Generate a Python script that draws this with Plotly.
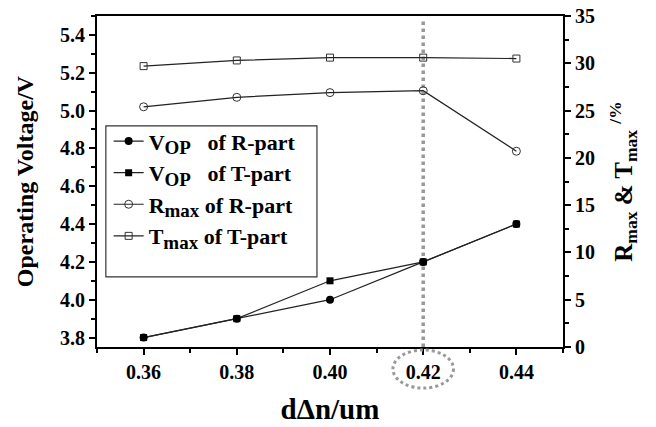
import plotly.graph_objects as go

x_vals = [0.36, 0.38, 0.40, 0.42, 0.44]
vop_r = [3.8, 3.9, 4.0, 4.2, 4.4]
vop_t = [3.8, 3.9, 4.1, 4.2, 4.4]
rmax_r = [25.4, 26.4, 26.9, 27.1, 20.7]
tmax_t = [29.7, 30.3, 30.6, 30.6, 30.5]

x_ticks = [0.36, 0.38, 0.40, 0.42, 0.44]
x_ticklabels = ["0.36", "0.38", "0.40", "0.42", "0.44"]
highlight_x = 0.42

SUB = '<sub><span style="font-size:19px">{}</span></sub>'
names = [
    "V" + SUB.format("OP") + "&nbsp;&nbsp;&nbsp;of R-part",
    "V" + SUB.format("OP") + "&nbsp;&nbsp;&nbsp;of T-part",
    "R" + SUB.format("max") + " of R-part",
    "T" + SUB.format("max") + " of T-part",
]

FONT = "Liberation Serif"

fig = go.Figure()
line = dict(color="#222", width=1.2)
fig.add_trace(go.Scatter(x=x_vals, y=vop_t, name=names[1], mode="lines+markers",
                         line=line, marker=dict(symbol="square", size=7, color="black"),
                         legendrank=2))
fig.add_trace(go.Scatter(x=x_vals, y=vop_r, name=names[0], mode="lines+markers",
                         line=line, marker=dict(symbol="circle", size=8, color="black"),
                         legendrank=1))
fig.add_trace(go.Scatter(x=x_vals, y=rmax_r, name=names[2], mode="lines+markers", yaxis="y2",
                         line=line, marker=dict(symbol="circle-open", size=8, color="#333",
                                                line=dict(width=1)), legendrank=3))
fig.add_trace(go.Scatter(x=x_vals, y=tmax_t, name=names[3], mode="lines+markers", yaxis="y2",
                         line=line, marker=dict(symbol="square-open", size=7, color="#333",
                                                line=dict(width=1)), legendrank=4))

tickfont = dict(family=FONT, size=20, color="black", weight="bold")

fig.update_layout(
    width=648, height=419,
    margin=dict(l=89, r=93, t=8, b=80, autoexpand=False),
    plot_bgcolor="white", paper_bgcolor="white",
    font=dict(family=FONT, color="black"),
    xaxis=dict(range=[0.35, 0.45], tickvals=x_ticks, ticktext=x_ticklabels, automargin=False,
               ticks="outside", ticklen=6, tickwidth=1.5, tickcolor="black",
               minor=dict(dtick=0.01, tick0=0.35, ticks="outside", ticklen=4, tickcolor="black"),
               showline=True, linecolor="black", linewidth=2, mirror=True,
               showgrid=False, zeroline=False, tickfont=tickfont,
               title=dict(text="dΔn/um", font=dict(family=FONT, size=29, weight="bold"), standoff=17)),
    yaxis=dict(range=[3.75, 5.5], dtick=0.2, tick0=3.8, tickformat=".1f", automargin=False,
               ticklabeloverflow="allow",
               ticks="outside", ticklen=6, tickwidth=1.5, tickcolor="black",
               minor=dict(dtick=0.1, tick0=3.8, ticks="outside", ticklen=4, tickcolor="black"),
               showline=True, linecolor="black", linewidth=2,
               showgrid=False, zeroline=False, tickfont=tickfont,
               title=dict(text="Operating Voltage/V", font=dict(family=FONT, size=24, weight="bold"), standoff=20)),
    yaxis2=dict(range=[0, 35], dtick=5, overlaying="y", side="right", automargin=False,
                ticklabeloverflow="allow",
                ticks="outside", ticklen=6, tickwidth=1.5, tickcolor="black",
                minor=dict(dtick=2.5, ticks="outside", ticklen=4, tickcolor="black"),
                showline=True, linecolor="black", linewidth=2,
                showgrid=False, zeroline=False, tickfont=tickfont,
                title=dict(text="R<sub>max</sub> & T<sub>max</sub> <sup>/%</sup>",
                           font=dict(family=FONT, size=25, weight="bold"), standoff=20)),
    legend=dict(x=0.025, y=0.685, xanchor="left", yanchor="top",
                bgcolor="rgba(0,0,0,0)", borderwidth=0,
                font=dict(family=FONT, size=22, color="black", weight="bold"),
                itemwidth=30, tracegroupgap=0),
    showlegend=True,
)

# legend frame
fig.add_shape(type="rect", xref="paper", yref="paper", x0=0.019, x1=0.472, y0=0.212, y1=0.668,
              line=dict(color="#333", width=1.2), fillcolor="rgba(0,0,0,0)", layer="below")
# highlight line
fig.add_shape(type="line", xref="x", yref="paper", x0=highlight_x, x1=highlight_x, y0=0, y1=0.99,
              line=dict(color="#999", width=3.5, dash="dot"), layer="below")
# dotted ellipse around tick label
fig.add_shape(type="circle", xref="x", yref="paper", x0=highlight_x - 0.0065, x1=highlight_x + 0.0065,
              y0=-0.124, y1=-0.009, line=dict(color="#999", width=3, dash="dot"))

fig.write_html("out.html")
